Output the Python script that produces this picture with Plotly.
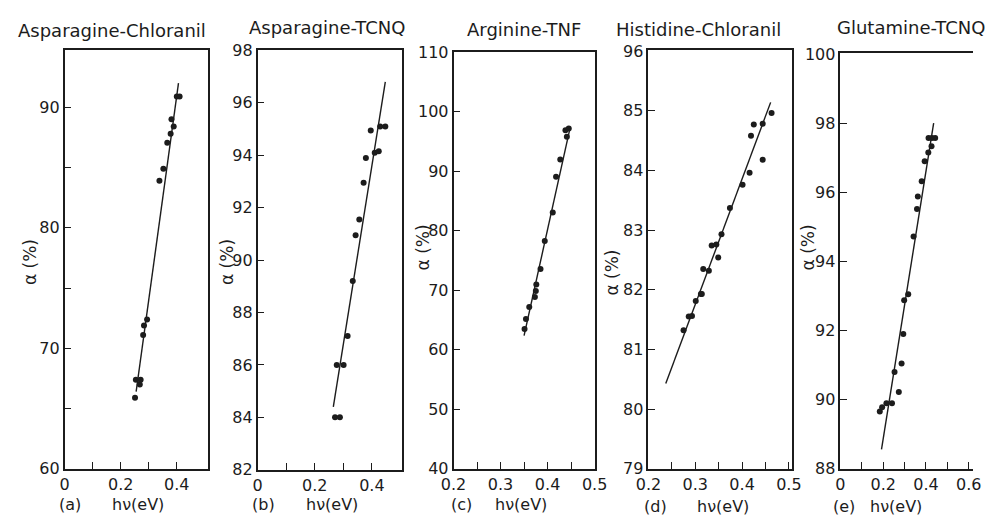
import plotly.graph_objects as go

W, H = 985, 527

# ---------------- data ----------------
titles = ["Asparagine-Chloranil", "Asparagine-TCNQ", "Arginine-TNF", "Histidine-Chloranil", "Glutamine-TCNQ"]
panel_tags = ["(a)", "(b)", "(c)", "(d)", "(e)"]

a_x = [0.251, 0.254, 0.268, 0.271, 0.280, 0.283, 0.294, 0.338, 0.352, 0.366, 0.378, 0.381, 0.389, 0.400, 0.410]
a_y = [65.9, 67.4, 67.0, 67.4, 71.1, 71.9, 72.4, 83.9, 84.9, 87.05, 87.8, 89.0, 88.4, 90.9, 90.9]
a_fit_x = [0.255, 0.406]
a_fit_y = [66.4, 92.0]

b_x = [0.271, 0.288, 0.277, 0.301, 0.315, 0.333, 0.343, 0.356, 0.371, 0.379, 0.396, 0.410, 0.424, 0.429, 0.447]
b_y = [84.0, 84.0, 86.0, 86.0, 87.1, 89.2, 90.95, 91.55, 92.95, 93.9, 94.95, 94.1, 94.15, 95.1, 95.1]
b_fit_x = [0.265, 0.447]
b_fit_y = [84.4, 96.8]

c_x = [0.351, 0.354, 0.361, 0.373, 0.375, 0.376, 0.385, 0.394, 0.411, 0.418, 0.427, 0.438, 0.441, 0.445]
c_y = [63.5, 65.2, 67.2, 68.9, 69.9, 71.0, 73.6, 78.3, 83.1, 89.1, 92.0, 96.9, 95.8, 97.2]
c_fit_x = [0.350, 0.447]
c_fit_y = [62.4, 97.0]

d_x = [0.275, 0.286, 0.293, 0.301, 0.312, 0.314, 0.317, 0.329, 0.335, 0.345, 0.349, 0.356,
       0.374, 0.401, 0.416, 0.419, 0.425, 0.444, 0.444, 0.463]
d_y = [81.32, 81.55, 81.56, 81.81, 81.93, 81.93, 82.35, 82.32, 82.74, 82.76, 82.54, 82.93,
       83.37, 83.76, 83.96, 84.58, 84.77, 84.78, 84.18, 84.96]
d_fit_x = [0.237, 0.461]
d_fit_y = [80.43, 85.14]

e_x = [0.184, 0.195, 0.215, 0.241, 0.253, 0.273, 0.286, 0.294, 0.298, 0.317, 0.342, 0.358,
       0.362, 0.380, 0.394, 0.411, 0.426, 0.412, 0.428, 0.443]
e_y = [89.66, 89.78, 89.9, 89.9, 90.8, 90.22, 91.05, 91.9, 92.88, 93.05, 94.72, 95.52,
       95.88, 96.32, 96.9, 97.15, 97.33, 97.57, 97.57, 97.57]
e_fit_x = [0.192, 0.436]
e_fit_y = [88.56, 98.0]

# axis ranges / ticks
x_ranges = [[0, 0.511], [0, 0.505], [0.2, 0.5005], [0.2, 0.506], [0, 0.62]]
y_ranges = [[60, 94.72], [82, 98], [40, 110], [79, 86.01], [88, 100.02]]

a_xticks = [0, 0.1, 0.2, 0.3, 0.4]
a_xlabels = ["0", "", "0.2", "", "0.4"]
a_yticks = [60, 65, 70, 75, 80, 85, 90]
a_ylabels = ["60", "", "70", "", "80", "", "90"]

b_xticks = [0, 0.1, 0.2, 0.3, 0.4]
b_xlabels = ["0", "", "0.2", "", "0.4"]
b_yticks = [82, 84, 86, 88, 90, 92, 94, 96, 98]
b_ylabels = ["82", "84", "86", "88", "90", "92", "94", "96", "98"]

c_xticks = [0.2, 0.25, 0.3, 0.35, 0.4, 0.45, 0.5]
c_xlabels = ["0.2", "", "0.3", "", "0.4", "", "0.5"]
c_yticks = [40, 50, 60, 70, 80, 90, 100, 110]
c_ylabels = ["40", "50", "60", "70", "80", "90", "100", "110"]

d_xticks = [0.2, 0.25, 0.3, 0.35, 0.4, 0.45, 0.5]
d_xlabels = ["0.2", "", "0.3", "", "0.4", "", "0.5"]
d_yticks = [79, 80, 81, 82, 83, 84, 85, 86]
d_ylabels = ["79", "80", "81", "82", "83", "84", "85", "96"]

e_xticks = [0, 0.1, 0.2, 0.3, 0.4, 0.5, 0.6]
e_xlabels = ["0", "", "0.2", "", "0.4", "", "0.6"]
e_yticks = [88, 90, 92, 94, 96, 98, 100]
e_ylabels = ["88", "90", "92", "94", "96", "98", "100"]

# ---------------- layout geometry (pixels) ----------------
px_x = [(53, 200), (251, 399), (452, 597), (652, 799), (849, 985)]
px_y = [(43, 477), (43, 478), (45, 477), (43, 477), (46, 477)]
title_pos = [(102, 22, "center"), (322, 19, "center"), (524, 21, "center"), (703, 21, "center"), (843, 19, "left")]
ytitle_pos = [(17, 263), (219, 262), (421, 247), (615, 273), (816, 247)]
tag_pos = [(58, 514), (257, 514), (460, 514), (659, 516), (853, 516)]
hv_pos = [(128, 514), (327, 514), (521, 514), (728, 516), (906, 516)]

INK = "#1c1c1c"
FONT = "DejaVu Sans"

xs = [a_x, b_x, c_x, d_x, e_x]
ys = [a_y, b_y, c_y, d_y, e_y]
fxs = [a_fit_x, b_fit_x, c_fit_x, d_fit_x, e_fit_x]
fys = [a_fit_y, b_fit_y, c_fit_y, d_fit_y, e_fit_y]
xt = [(a_xticks, a_xlabels), (b_xticks, b_xlabels), (c_xticks, c_xlabels), (d_xticks, d_xlabels), (e_xticks, e_xlabels)]
yt = [(a_yticks, a_ylabels), (b_yticks, b_ylabels), (c_yticks, c_ylabels), (d_yticks, d_ylabels), (e_yticks, e_ylabels)]

fig = go.Figure()
layout = dict(
    width=W, height=H,
    margin=dict(l=0, r=0, t=0, b=0),
    paper_bgcolor="white", plot_bgcolor="white",
    showlegend=False,
    font=dict(family=FONT, color=INK, size=16),
)
annotations = []

for i in range(5):
    n = "" if i == 0 else str(i + 1)
    xa, ya = "x" + n, "y" + n
    fig.add_trace(go.Scatter(x=fxs[i], y=fys[i], mode="lines", xaxis=xa, yaxis=ya,
                             line=dict(color=INK, width=1.4), hoverinfo="skip"))
    fig.add_trace(go.Scatter(x=xs[i], y=ys[i], mode="markers", xaxis=xa, yaxis=ya,
                             marker=dict(color=INK, size=6, line=dict(width=0))))
    x0, x1 = px_x[i]
    y0, y1 = px_y[i]
    layout["xaxis" + n] = dict(
        domain=[x0 / W, x1 / W], anchor=ya, range=x_ranges[i],
        showgrid=False, zeroline=False, showline=True, linecolor=INK, linewidth=1.6,
        mirror=True, ticks="inside", ticklen=7, tickwidth=1.4, tickcolor=INK,
        tickvals=xt[i][0], ticktext=xt[i][1], tickfont=dict(size=16, family=FONT, color=INK),
    )
    layout["yaxis" + n] = dict(
        domain=[1 - y1 / H, 1 - y0 / H], anchor=xa, range=y_ranges[i],
        showgrid=False, zeroline=False, showline=True, linecolor=INK, linewidth=1.6,
        mirror=(i != 4), ticks="inside", ticklen=7, tickwidth=1.4, tickcolor=INK,
        tickvals=yt[i][0], ticktext=yt[i][1], tickfont=dict(size=16, family=FONT, color=INK),
    )
    tx, ty, anc = title_pos[i]
    annotations.append(dict(text=titles[i], x=tx / W, y=1 - ty / H, xref="paper", yref="paper",
                            xanchor=anc, yanchor="middle", showarrow=False,
                            font=dict(size=18, family=FONT, color=INK)))
    yx, yy = ytitle_pos[i]
    annotations.append(dict(text="α (%)", x=yx / W, y=1 - yy / H, xref="paper", yref="paper",
                            xanchor="center", yanchor="middle", showarrow=False, textangle=-90,
                            font=dict(size=17, family=FONT, color=INK)))
    gx, gy = tag_pos[i]
    annotations.append(dict(text=panel_tags[i], x=gx / W, y=1 - gy / H, xref="paper", yref="paper",
                            xanchor="center", yanchor="middle", showarrow=False,
                            font=dict(size=16, family=FONT, color=INK)))
    hx, hy = hv_pos[i]
    annotations.append(dict(text="hν(eV)", x=hx / W, y=1 - hy / H, xref="paper", yref="paper",
                            xanchor="center", yanchor="middle", showarrow=False,
                            font=dict(size=16, family=FONT, color=INK)))

layout["annotations"] = annotations
fig.update_layout(**layout)
fig.write_html("out.html")
